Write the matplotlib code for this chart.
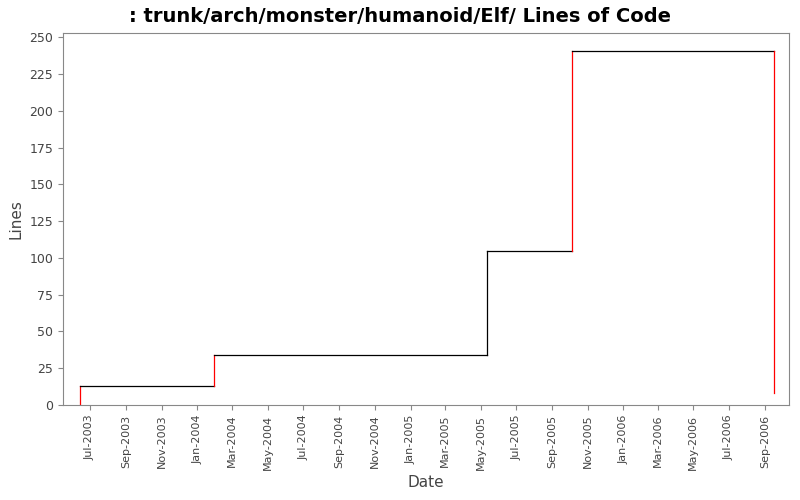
import matplotlib
matplotlib.use("Agg")
import matplotlib.pyplot as plt
import matplotlib.dates as mdates
import numpy as np

dates = np.array(["2003-06-14", "2004-01-30", "2005-05-12", "2005-10-05", "2006-09-16"],
                 dtype="datetime64[D]")
lines_before = [0, 13, 34, 105, 241]
lines_after = [13, 34, 105, 241, 8]
rise_colors = ["red", "red", "black", "red", "red"]

fig = plt.figure(figsize=(8, 5), dpi=100)
ax = fig.add_axes([63 / 800, 95 / 500, 726 / 800, 372 / 500])

for i, d in enumerate(dates):
    ax.plot([d, d], [lines_before[i], lines_after[i]], color=rise_colors[i], lw=0.9)
    if i + 1 < len(dates):
        ax.plot([d, dates[i + 1]], [lines_after[i], lines_after[i]], color="black", lw=0.9)

ax.set_xlim(np.datetime64("2003-05-16"), np.datetime64("2006-10-12"))
ax.set_ylim(0, 253)
ax.set_yticks(range(0, 251, 25))
ax.xaxis.set_major_locator(mdates.MonthLocator(bymonth=[1, 3, 5, 7, 9, 11]))
ax.xaxis.set_major_formatter(mdates.DateFormatter("%b-%Y"))
plt.setp(ax.get_xticklabels(), rotation=90, fontsize=8, color="#444444")
plt.setp(ax.get_yticklabels(), fontsize=9, color="#444444")
for s in ax.spines.values():
    s.set_color("#888888")
ax.tick_params(colors="#888888", labelcolor="#444444")
ax.set_xlabel("Date", fontsize=11, color="#444444")
ax.set_ylabel("Lines", fontsize=11, color="#444444")
fig.suptitle(": trunk/arch/monster/humanoid/Elf/ Lines of Code", fontsize=14,
             fontweight="bold", y=0.985)
fig.savefig("out.png", dpi=100)
